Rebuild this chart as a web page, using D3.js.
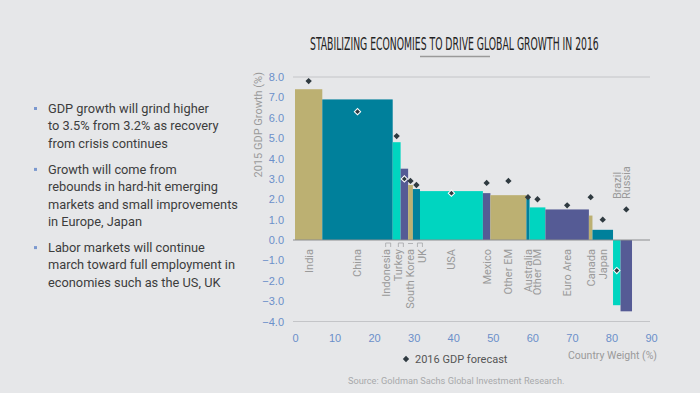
<!DOCTYPE html>
<html>
<head>
<meta charset="utf-8">
<script src="https://cdn.jsdelivr.net/npm/d3@7"></script>
<style>
  body { margin: 0; background: #e6e7e9; }
  svg { display: block; font-family: Roboto, "Liberation Sans", sans-serif; }
  .tick text { fill: #6b8fca; font-size: 11px; }
  .cLabel { fill: #9a9a9a; font-size: 11px; }
  .bullet { fill: #3d3d3d; font-size: 12.8px; }
</style>
</head>
<body>
<script>
(function(){

    //countries, left to right
    var countries = ["India", "China", "Indonesia", "Turkey", "South Korea", "UK", "USA", "Mexico",
        "Other EM", "Australia", "Other DM", "Euro Area", "Canada", "Japan", "Brazil", "Russia"];
    //country weight (%), width of each bar
    var weights = [6.9, 17.8, 2.0, 1.9, 1.2, 1.8, 15.9, 1.9, 9.1, 0.8, 4.0, 11.0, 0.9, 5.2, 1.9, 2.9];
    //2015 GDP growth (%)
    var growth2015 = [7.4, 6.9, 4.8, 3.5, 2.7, 2.5, 2.4, 2.3, 2.2, 2.1, 1.6, 1.5, 1.2, 0.5, -3.2, -3.5];
    //2016 GDP forecast (%)
    var forecast2016 = [7.8, 6.3, 5.1, 3.0, 2.9, 2.7, 2.3, 2.8, 2.9, 2.1, 2.0, 1.7, 2.1, 1.0, -1.5, 1.5];
    //bar colours cycle
    var palette = ["#bcb072", "#00809b", "#00d5c0", "#555b95"];
    var barColors = [0, 1, 2, 3, 0, 1, 2, 3, 0, 1, 2, 3, 0, 1, 2, 3];

    var yTicks = [-4, -3, -2, -1, 0, 1, 2, 3, 4, 5, 6, 7, 8];
    var xTicks = [0, 10, 20, 30, 40, 50, 60, 70, 80, 90];

    var bullets = [
        ["GDP growth will grind higher", "to 3.5% from 3.2% as recovery", "from crisis continues"],
        ["Growth will come from", "rebounds in hard-hit emerging", "markets and small improvements", "in Europe, Japan"],
        ["Labor markets will continue", "march toward full employment in", "economies such as the US, UK"]
    ];

    var width = 700, height = 393;

    var svg = d3.select("body").append("svg")
        .attr("width", width)
        .attr("height", height);

    //left text column
    var by = 113;
    bullets.forEach(function(lines){
        svg.append("rect")
            .attr("x", 34).attr("y", by - 6)
            .attr("width", 3).attr("height", 3)
            .attr("fill", "#7b98cf");
        lines.forEach(function(l, i){
            svg.append("text")
                .attr("class", "bullet")
                .attr("x", 48)
                .attr("y", by + i * 17.3)
                .text(l);
        });
        by += lines.length * 17.3 + 9;
    });

    //title, squeezed horizontally to look condensed
    var title = svg.append("text")
        .attr("x", 0).attr("y", 0)
        .style("font-family", "'DejaVu Sans', sans-serif")
        .style("font-stretch", "condensed")
        .style("font-size", "17px")
        .attr("fill", "#222")
        .text("STABILIZING ECONOMIES TO DRIVE GLOBAL GROWTH IN 2016");
    var tw = title.node().getComputedTextLength();
    title.attr("transform", "translate(310,50) scale(" + (289 / tw) + ",1)");

    svg.append("line")
        .attr("x1", 420).attr("x2", 490)
        .attr("y1", 56.5).attr("y2", 56.5)
        .attr("stroke", "#9a9a9a").attr("stroke-width", 1.5);

    //scales
    var x = d3.scaleLinear().domain([0, 90]).range([295, 651]);
    var y = d3.scaleLinear().domain([-4, 8]).range([321.5, 77]);

    //bar table
    var data = [], acc = 0;
    countries.forEach(function(c, i){
        data.push({
            name: c, x0: acc, x1: acc + weights[i],
            v: growth2015[i], f: forecast2016[i], color: palette[barColors[i]]
        });
        acc += weights[i];
    });

    //gridlines at top and bottom
    [8, -4].forEach(function(t){
        svg.append("line")
            .attr("x1", 293).attr("x2", 650)
            .attr("y1", y(t)).attr("y2", y(t))
            .attr("stroke", "#c4c5c8").attr("stroke-width", 1);
    });

    //y axis
    var yAxis = svg.append("g")
        .attr("transform", "translate(287,0)")
        .call(d3.axisLeft(y).tickValues(yTicks).tickSize(0).tickFormat(d3.format(".1f")));
    yAxis.select(".domain").remove();

    //x axis
    var xAxis = svg.append("g")
        .attr("transform", "translate(0,331)")
        .call(d3.axisBottom(x).tickValues(xTicks).tickSize(0));
    xAxis.select(".domain").remove();

    //bars
    svg.selectAll(".bar")
        .data(data)
        .enter()
        .append("rect")
        .attr("class", "bar")
        .attr("x", function(d){ return x(d.x0); })
        .attr("width", function(d){ return x(d.x1) - x(d.x0); })
        .attr("y", function(d){ return y(Math.max(0, d.v)); })
        .attr("height", function(d){ return Math.abs(y(d.v) - y(0)); })
        .attr("fill", function(d){ return d.color; });

    //zero line
    svg.append("line")
        .attr("x1", 293).attr("x2", 650)
        .attr("y1", y(0)).attr("y2", y(0))
        .attr("stroke", "#8c8d90").attr("stroke-width", 1.2);

    //forecast diamonds
    var diamond = d3.symbol().type(d3.symbolSquare).size(20);
    svg.selectAll(".fc")
        .data(data)
        .enter()
        .append("path")
        .attr("class", "fc")
        .attr("d", diamond)
        .attr("transform", function(d){
            return "translate(" + x((d.x0 + d.x1) / 2) + "," + y(d.f) + ") rotate(45)";
        })
        .attr("fill", "#2f3a40")
        .attr("stroke", function(d){
            var inside = d.v >= 0 ? (d.f >= 0 && d.f < d.v) : (d.f < 0 && d.f > d.v);
            return inside ? "#fff" : "none";
        })
        .attr("stroke-width", 1);

    //country labels, nudged where bars are thin
    var nudge = { "Indonesia": -11, "Turkey": -6, "UK": 6 };
    svg.selectAll(".cLabel")
        .data(data)
        .enter()
        .append("text")
        .attr("class", "cLabel")
        .attr("transform", function(d){
            var lx = x((d.x0 + d.x1) / 2) + (nudge[d.name] || 0);
            return "translate(" + lx + "," + (d.v < 0 ? 199 : 249) + ") rotate(-90)";
        })
        .attr("dy", "0.35em")
        .attr("text-anchor", function(d){ return d.v < 0 ? "start" : "end"; })
        .text(function(d){ return d.name; });

    //leader ticks for the thin bars
    data.forEach(function(d){
        if (!(d.name in nudge) && d.name != "South Korea") return;
        var bx = x((d.x0 + d.x1) / 2), lx = bx + (nudge[d.name] || 0);
        var p;
        if (d.name == "South Korea") {
            p = "M" + (bx - 2.5) + ",243.5H" + (bx + 2.5);
        } else {
            var dir = lx < bx ? 1 : -1;
            p = "M" + lx + ",247V243H" + (lx + dir * 5) + "V247";
        }
        svg.append("path").attr("d", p)
            .attr("fill", "none").attr("stroke", "#a5a6a8").attr("stroke-width", 0.8);
    });

    //axis titles
    svg.append("text")
        .attr("class", "cLabel")
        .attr("transform", "translate(258,72) rotate(-90)")
        .attr("dy", "0.35em")
        .attr("text-anchor", "end")
        .text("2015 GDP Growth (%)");

    svg.append("text")
        .attr("class", "cLabel")
        .style("font-size", "10.5px")
        .attr("x", 657).attr("y", 359)
        .attr("text-anchor", "end")
        .text("Country Weight (%)");

    //legend
    svg.append("path")
        .attr("d", diamond)
        .attr("transform", "translate(406,359) rotate(45)")
        .attr("fill", "#2f3a40");
    svg.append("text")
        .attr("x", 415).attr("y", 363)
        .attr("fill", "#555")
        .style("font-size", "11px")
        .text("2016 GDP forecast");

    //source
    svg.append("text")
        .attr("x", 348).attr("y", 383.5)
        .attr("fill", "#a8a9ab")
        .style("font-size", "9.2px")
        .text("Source: Goldman Sachs Global Investment Research.");

})();
</script>
</body>
</html>
